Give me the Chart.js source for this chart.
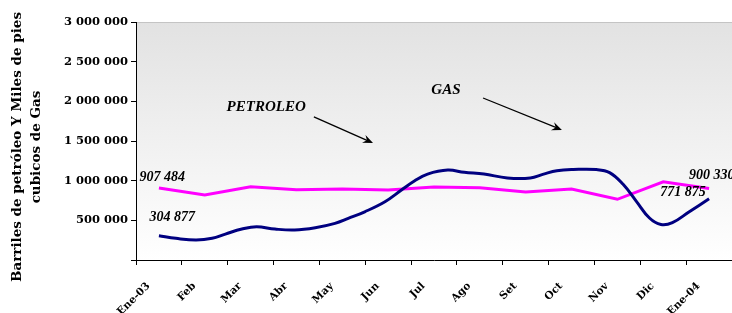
<!DOCTYPE html>
<html>
<head>
<meta charset="utf-8">
<script src="https://cdn.jsdelivr.net/npm/chart.js@4.4.1/dist/chart.umd.min.js"></script>
<style>
  html, body { margin: 0; padding: 0; background: #fff; }
  #wrap { width: 732px; height: 313px; }
</style>
</head>
<body>
<div id="wrap"><canvas id="chart"></canvas></div>
<script>
// meses (eje x)
const months = ["Ene-03", "Feb", "Mar", "Abr", "May", "Jun", "Jul", "Ago", "Set", "Oct", "Nov", "Dic", "Ene-04"];

// petroleo: un valor por mes
const petroleo = [907484, 819000, 923000, 886000, 895000, 882000, 920000, 911000, 857000, 895000, 765000, 986000, 900330];

// gas: lectura semanal aprox. (posicion en meses, valor)
const gasX = [0, 0.37, 0.81, 1.16, 1.45, 1.81, 2.13, 2.53, 2.96, 3.41, 3.84, 4.13, 4.49, 4.93, 5.29, 5.58, 5.86,
  6.3, 6.66, 7.09, 7.6, 8.1, 8.39, 8.68, 9.04, 9.54, 9.83, 10.12, 10.41, 10.7, 10.95, 11.2, 11.56, 12];
const gasY = [304877, 273000, 252000, 273000, 327000, 390000, 419000, 390000, 378000, 407000, 462000, 525000, 608000,
  734000, 882000, 999000, 1083000, 1133000, 1105000, 1083000, 1035000, 1035000, 1083000, 1125000, 1140000, 1140000,
  1102000, 957000, 743000, 529000, 447000, 470000, 605000, 771875];

const yTicks = [0, 500000, 1000000, 1500000, 2000000, 2500000, 3000000];
const yTitle = ["Barriles de petróleo Y Miles de pies", "cubicos de Gas"];

// textos sobre el grafico (en unidades de los ejes)
const notes = [
  { text: "PETROLEO", x: 2.34, y: 1929000 },
  { text: "GAS", x: 6.26, y: 2143000 },
  { text: "907 484", x: 0.07, y: 1046000 },
  { text: "304 877", x: 0.29, y: 542000 },
  { text: "771 875", x: 11.43, y: 857000 },
  { text: "900 330", x: 12.06, y: 1071000 }
];
const arrows = [
  { from: [3.38, 1803000], to: [4.67, 1475000] },
  { from: [7.07, 2042000], to: [8.79, 1639000] }
];

const LABEL_SHIFT = 0.23; // las etiquetas giradas terminan un poco antes del centro del mes

const fmt = v => String(v).replace(/\B(?=(\d{3})+(?!\d))/g, " ");

const bgPlugin = {
  id: "bg",
  beforeDraw(chart) {
    const { ctx, chartArea: a } = chart;
    const g = ctx.createLinearGradient(0, a.top, 0, a.bottom);
    g.addColorStop(0, "#e2e2e2");
    g.addColorStop(1, "#ffffff");
    ctx.save();
    ctx.fillStyle = g;
    ctx.fillRect(a.left, a.top, a.right - a.left, a.bottom - a.top);
    ctx.strokeStyle = "#c4c4c4";
    ctx.lineWidth = 1;
    ctx.beginPath();
    ctx.moveTo(a.left, a.top + 0.5);
    ctx.lineTo(a.right, a.top + 0.5);
    ctx.stroke();
    ctx.restore();
  }
};

function drawArrow(ctx, x1, y1, x2, y2) {
  const ang = Math.atan2(y2 - y1, x2 - x1);
  const len = 11;
  ctx.beginPath();
  ctx.moveTo(x1, y1);
  ctx.lineTo(x2 - Math.cos(ang) * 6, y2 - Math.sin(ang) * 6);
  ctx.stroke();
  ctx.beginPath();
  ctx.moveTo(x2, y2);
  ctx.lineTo(x2 - len * Math.cos(ang - 0.4), y2 - len * Math.sin(ang - 0.4));
  ctx.lineTo(x2 - len * 0.6 * Math.cos(ang), y2 - len * 0.6 * Math.sin(ang));
  ctx.lineTo(x2 - len * Math.cos(ang + 0.4), y2 - len * Math.sin(ang + 0.4));
  ctx.closePath();
  ctx.fill();
}

const notesPlugin = {
  id: "notes",
  afterDatasetsDraw(chart) {
    const { ctx, scales: { x, y } } = chart;
    ctx.save();
    ctx.fillStyle = "#000";
    ctx.strokeStyle = "#000";
    ctx.lineWidth = 1.3;
    ctx.textAlign = "center";
    ctx.textBaseline = "middle";
    notes.forEach(n => {
      ctx.font = 'italic bold ' + (/\d/.test(n.text) ? 14 : 15) + 'px "Liberation Serif"';
      ctx.fillText(n.text, x.getPixelForValue(n.x), y.getPixelForValue(n.y));
    });
    arrows.forEach(a => drawArrow(ctx,
      x.getPixelForValue(a.from[0]), y.getPixelForValue(a.from[1]),
      x.getPixelForValue(a.to[0]), y.getPixelForValue(a.to[1])));

    // titulo del eje y, en dos lineas
    const mid = (chart.chartArea.top + chart.chartArea.bottom) / 2 + 6;
    ctx.font = 'bold 13.5px "DejaVu Serif"';
    [17, 36].forEach((cx, i) => {
      ctx.save();
      ctx.translate(cx, mid);
      ctx.rotate(-Math.PI / 2);
      ctx.fillText(yTitle[i], 0, 0);
      ctx.restore();
    });
    ctx.restore();
  }
};

new Chart(document.getElementById("chart"), {
  type: "line",
  data: {
    datasets: [
      {
        label: "GAS",
        data: gasX.map((v, i) => ({ x: v, y: gasY[i] })),
        borderColor: "#000080",
        borderWidth: 3,
        pointRadius: 0,
        tension: 0.4,
        fill: false
      },
      {
        label: "PETROLEO",
        data: petroleo.map((v, i) => ({ x: i, y: v })),
        borderColor: "#ff00ff",
        borderWidth: 3,
        pointRadius: 0,
        tension: 0,
        fill: false
      }
    ]
  },
  options: {
    responsive: true,
    maintainAspectRatio: false,
    animation: false,
    layout: { padding: { top: 22, right: -2, left: 0, bottom: 0 } },
    plugins: { legend: { display: false }, tooltip: { enabled: false } },
    scales: {
      x: {
        type: "linear",
        min: -0.5,
        max: 12.5,
        afterBuildTicks(scale) {
          const t = [];
          months.forEach((m, i) => {
            t.push({ value: i - 0.5 });
            t.push({ value: i - LABEL_SHIFT });
          });
          t.push({ value: months.length - 0.5 });
          scale.ticks = t;
        },
        afterFit(scale) {
          scale.height = 53;
          scale.paddingLeft = 0;
          scale.paddingRight = 0;
        },
        border: { color: "#000", width: 1 },
        grid: {
          drawOnChartArea: false,
          tickLength: 5,
          color: c => (Math.abs(c.tick.value % 1) === 0.5 ? "#000" : "rgba(0,0,0,0)")
        },
        ticks: {
          autoSkip: false,
          minRotation: 45,
          maxRotation: 45,
          padding: 15,
          color: "#000",
          font: { family: "DejaVu Serif", weight: "bold", size: 10.5 },
          callback: v => {
            const i = Math.round(v + LABEL_SHIFT);
            return Math.abs(v + LABEL_SHIFT - i) < 1e-6 ? months[i] : "";
          }
        }
      },
      y: {
        min: 0,
        max: 3000000,
        afterBuildTicks(scale) { scale.ticks = yTicks.map(v => ({ value: v })); },
        afterFit(scale) { scale.width = 136; },
        border: { color: "#000", width: 1 },
        grid: { drawOnChartArea: false, tickLength: 5, color: "#000" },
        ticks: {
          padding: 3,
          color: "#000",
          font: { family: "DejaVu Serif", weight: "bold", size: 11.5 },
          callback: v => (v === 0 ? "" : fmt(v))
        }
      }
    }
  },
  plugins: [bgPlugin, notesPlugin]
});
</script>
</body>
</html>
